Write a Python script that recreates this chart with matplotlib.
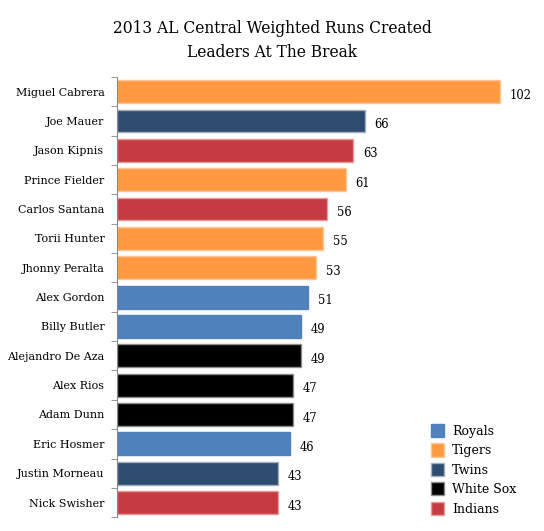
import matplotlib.pyplot as plt
from matplotlib.patches import Patch

players = ["Miguel Cabrera", "Joe Mauer", "Jason Kipnis", "Prince Fielder", "Carlos Santana",
           "Torii Hunter", "Jhonny Peralta", "Alex Gordon", "Billy Butler", "Alejandro De Aza",
           "Alex Rios", "Adam Dunn", "Eric Hosmer", "Justin Morneau", "Nick Swisher"]
wrc = [102, 66, 63, 61, 56, 55, 53, 51, 49, 49, 47, 47, 46, 43, 43]
teams = ["Tigers", "Twins", "Indians", "Tigers", "Indians", "Tigers", "Tigers", "Royals",
         "Royals", "White Sox", "White Sox", "White Sox", "Royals", "Twins", "Indians"]

team_order = ["Royals", "Tigers", "Twins", "White Sox", "Indians"]
fill = {"Royals": "#4f81bd", "Tigers": "#ff9a40", "Twins": "#2e4b70",
        "White Sox": "#000000", "Indians": "#c63a42"}
edge = {"Royals": "#4f81bd", "Tigers": "#fcc89a", "Twins": "#a3adbb",
        "White Sox": "#8c8c8c", "Indians": "#e89a9c"}

plt.rcParams['font.family'] = ['DejaVu Serif']

fig = plt.figure(figsize=(5.44, 5.31), dpi=100)
ax = fig.add_axes([0.215, 0.026, 0.759, 0.829])

y = list(range(len(players)))
ax.barh(y, wrc, height=0.78, color=[fill[t] for t in teams],
        edgecolor=[edge[t] for t in teams], linewidth=1)
for yi, v in zip(y, wrc):
    ax.text(v + 2.6, yi + 0.12, str(v), va="center", ha="left", fontsize=8.3)

ax.set_ylim(len(players) - 0.5, -0.5)
ax.set_xlim(0, 110)
ax.set_yticks(y)
ax.set_yticklabels(players, fontsize=8)
ax.set_yticks([i - 0.5 for i in range(len(players) + 1)], minor=True)
ax.tick_params(axis="y", which="major", length=0, pad=9)
ax.tick_params(axis="y", which="minor", length=4, color="#888888")
ax.set_xticks([])
for s in ["top", "right", "bottom"]:
    ax.spines[s].set_visible(False)
ax.spines["left"].set_color("#888888")

handles = [Patch(facecolor=fill[t], edgecolor=edge[t], label=t) for t in team_order]
fig.legend(handles=handles, loc="lower left", bbox_to_anchor=(0.771, 0.008),
           frameon=False, fontsize=9, handlelength=1.1, handleheight=1.25,
           handletextpad=0.6, labelspacing=0.45)

fig.suptitle("2013 AL Central Weighted Runs Created\nLeaders At The Break",
             fontsize=11.2, y=0.963, linespacing=1.55)

fig.savefig("out.png", dpi=100)
